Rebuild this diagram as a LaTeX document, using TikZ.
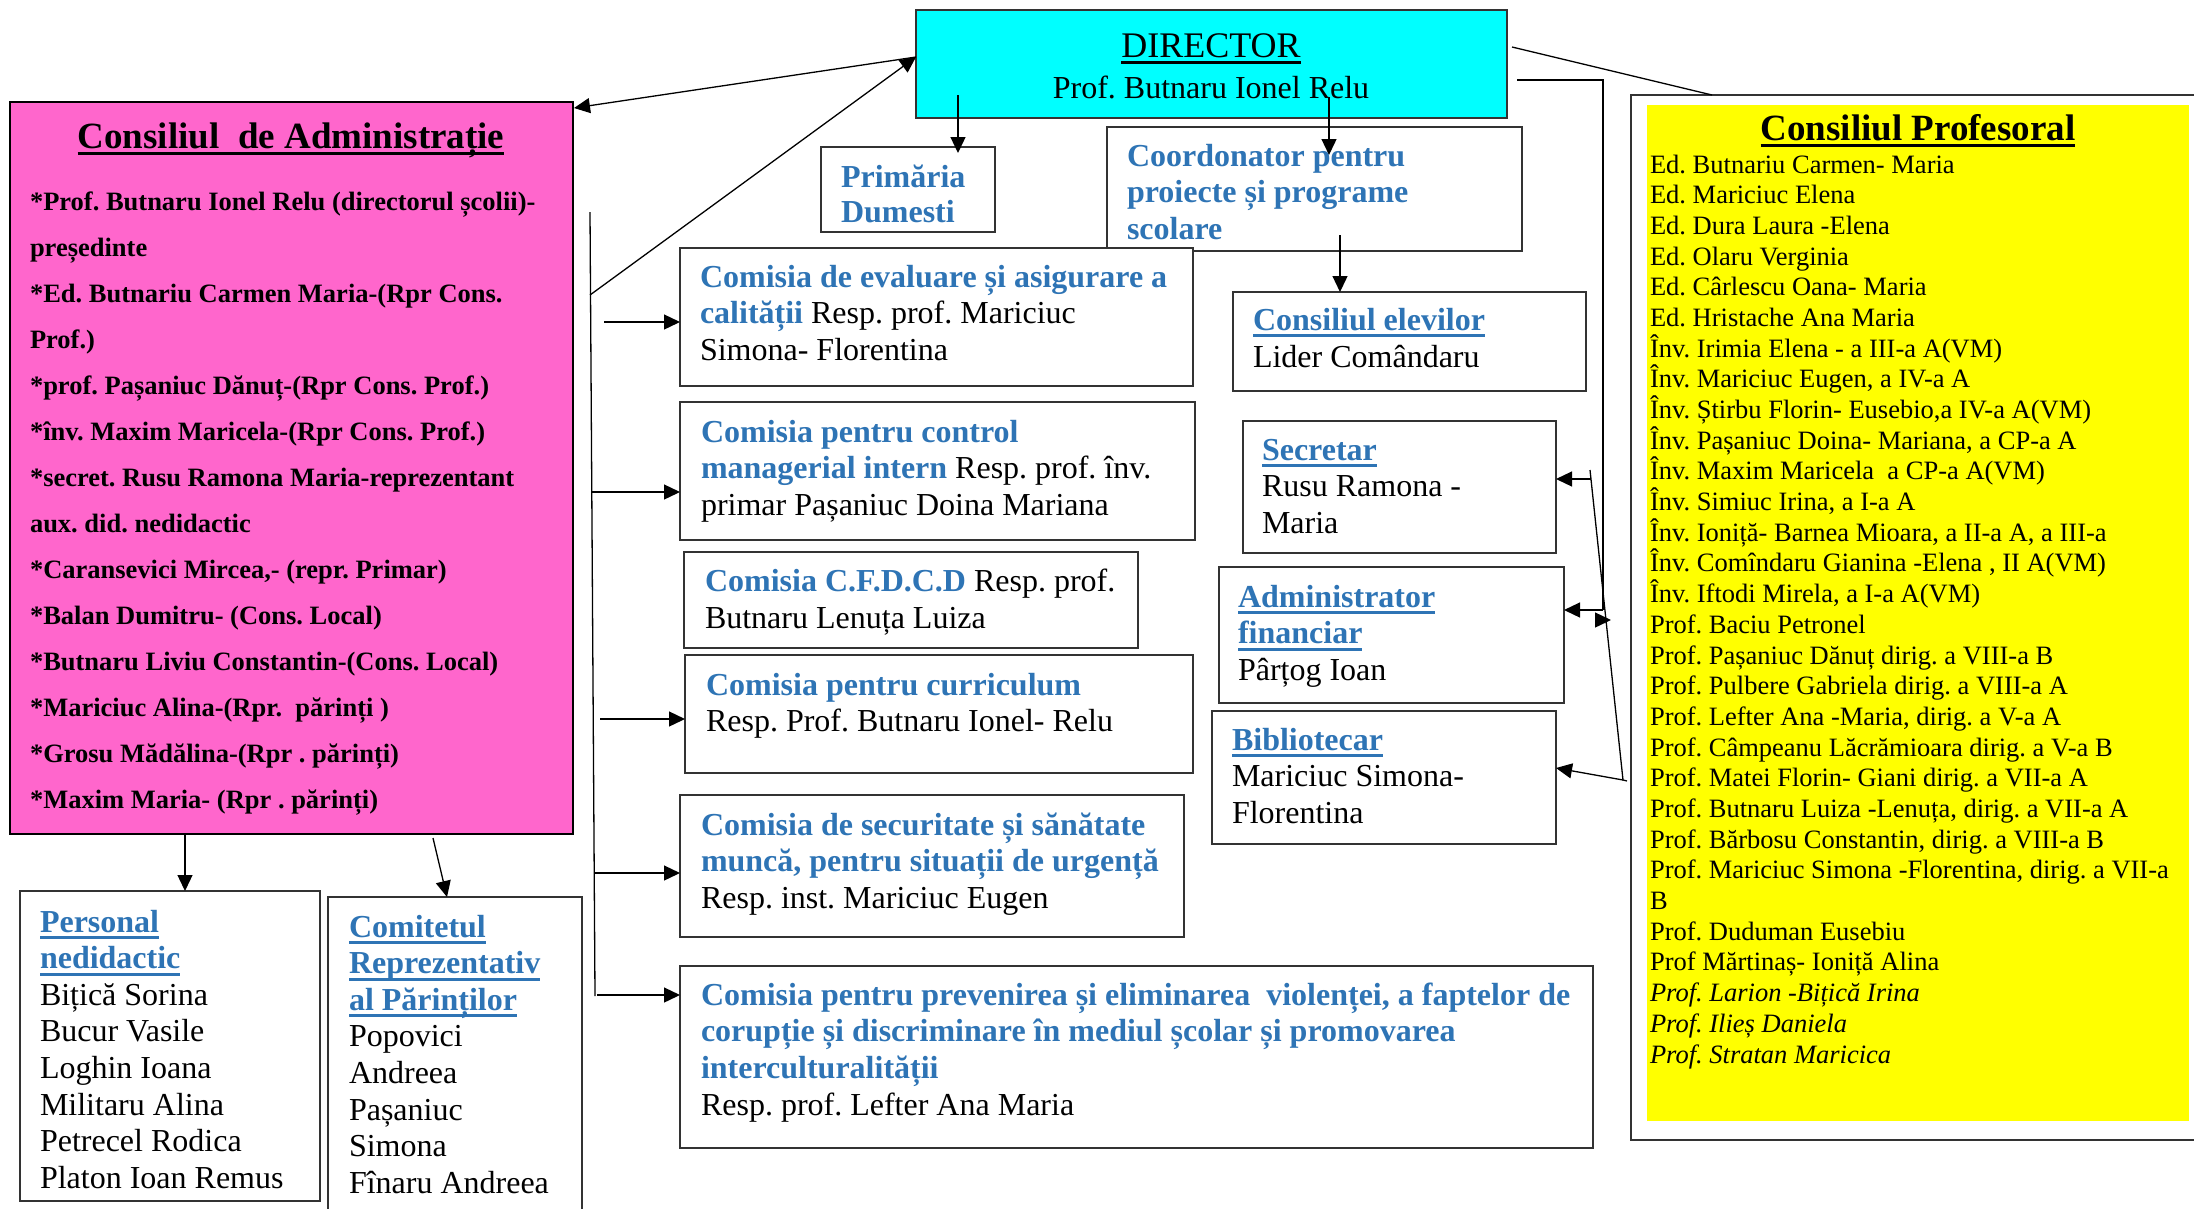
\documentclass[tikz,border=0pt]{standalone}
\usepackage{fontspec}
\setmainfont{Liberation Serif}
\usetikzlibrary{arrows.meta,calc}
\frenchspacing
\definecolor{cblue}{RGB}{46,116,181}
\definecolor{cpink}{RGB}{255,102,204}
\definecolor{ccyan}{RGB}{0,255,255}
\definecolor{cyell}{RGB}{255,255,0}
\newsavebox\ulbox
\newcommand\uln[1]{\sbox\ulbox{#1}\rlap{\rule[-7pt]{\wd\ulbox}{3pt}}\usebox\ulbox}
\newcommand\bl{\bfseries\color{cblue}}
\newcommand\bhd[1]{{\bfseries\color{cblue}\uln{#1}}}
\newcommand\tlines[6]{\foreach \tLine [count=\tIdx] in {#6} {\node[txt,#5] (#1\tIdx) at ({#2},{#3+(\tIdx-1)*#4}) {\tLine};}}
\newcommand\boxat[6]{\node[boxst,minimum width={#4-#2},minimum height={#5-#3},#6] (#1) at (#2,#3) {};}
\tikzset{
 boxst/.style={draw=black!80, line width=1.5pt, fill=white, anchor=north west, inner sep=0pt, outer sep=0pt},
 txt/.style={anchor=base west, inner sep=0pt, outer sep=0pt},
 fA/.style={font=\fontsize{32}{38}\selectfont\frenchspacing},
 fB/.style={font=\fontsize{26.5}{30}\selectfont\bfseries\frenchspacing},
 fC/.style={font=\fontsize{26.5}{30}\selectfont\frenchspacing},
 fH/.style={font=\fontsize{37}{44}\selectfont\bfseries},
 arr/.style={line width=1.3pt, -{Triangle[length=16pt,width=15pt]}},
 ln/.style={line width=1.3pt},
}
\begin{document}
\begin{tikzpicture}[x=1pt,y=-1pt]
\useasboundingbox (0,0) rectangle (2194,1208);
\clip (0,0) rectangle (2194,1208);
\fill[white] (0,0) rectangle (2194,1208);

% ---------- boxes ----------
\boxat{prof}{1631}{95}{2220}{1140}{}
\boxat{yel}{1647}{105}{2189}{1121}{draw=none, fill=cyell}
\boxat{director}{916}{10}{1507}{118}{fill=ccyan}
\boxat{admin}{10}{102}{573}{834}{fill=cpink, draw=black, line width=2.5pt}
\boxat{primaria}{821}{147}{995}{232}{}
\boxat{coord}{1107}{127}{1522}{251}{}
\boxat{eval}{680}{248}{1193}{386}{}
\boxat{elevi}{1233}{292}{1586}{391}{}
\boxat{control}{680}{402}{1195}{540}{}
\boxat{cfdcd}{684}{552}{1138}{648}{}
\boxat{curr}{685}{655}{1193}{773}{}
\boxat{secur}{680}{795}{1184}{937}{}
\boxat{prev}{680}{966}{1593}{1148}{}
\boxat{secretar}{1243}{421}{1556}{553}{}
\boxat{admfin}{1219}{567}{1564}{703}{}
\boxat{biblio}{1212}{711}{1556}{844}{}
\boxat{personal}{20}{891}{320}{1201}{}
\boxat{comitet}{328}{897}{582}{1230}{}

% ---------- texts ----------
\node[anchor=base, inner sep=0pt, font=\fontsize{36}{40}\selectfont] (dirT) at (1211,57) {\uln{DIRECTOR}};
\node[anchor=base, inner sep=0pt, fA] (dirN) at (1211,98) {Prof. Butnaru Ionel Relu};

\node[anchor=base, inner sep=0pt, fH] (adT) at (291,148) {\uln{Consiliul~ de Administrație}};
\tlines{ad}{30}{210}{46.07}{fB}{{*Prof. Butnaru Ionel Relu (directorul școlii)-},{președinte},{*Ed. Butnariu Carmen Maria-(Rpr Cons.},{Prof.)},{*prof. Pașaniuc Dănuț-(Rpr Cons. Prof.)},{*înv. Maxim Maricela-(Rpr Cons. Prof.)},{*secret. Rusu Ramona Maria-reprezentant},{aux. did. nedidactic},{*Caransevici Mircea,- (repr. Primar)},{*Balan Dumitru- (Cons. Local)},{*Butnaru Liviu Constantin-(Cons. Local)},{*Mariciuc Alina-(Rpr.~ părinți )},{*Grosu Mădălina-(Rpr . părinți)},{*Maxim Maria- (Rpr . părinți)}}

\tlines{pr}{841}{187}{35}{fA}{{\bl Primăria},{\bl Dumesti}}
\tlines{co}{1127}{166}{36.5}{fA}{{\bl Coordonator pentru},{\bl proiecte și programe},{\bl scolare}}
\tlines{el}{1253}{330}{37}{fA}{{\bhd{Consiliul elevilor}},{Lider Comândaru}}
\tlines{ev}{700}{287}{36.5}{fA}{{\bl Comisia de evaluare și asigurare a},{{\bl calității} Resp. prof. Mariciuc},{Simona- Florentina}}
\tlines{cm}{701}{442}{36.5}{fA}{{\bl Comisia pentru control},{{\bl managerial intern} Resp. prof. înv.},{primar Pașaniuc Doina Mariana}}
\tlines{cf}{705}{591}{37}{fA}{{{\bl Comisia C.F.D.C.D} Resp. prof.},{Butnaru Lenuța Luiza}}
\tlines{cu}{706}{695}{36}{fA}{{\bl Comisia pentru curriculum},{Resp. Prof. Butnaru Ionel- Relu}}
\tlines{se}{701}{835}{36.5}{fA}{{\bl Comisia de securitate și sănătate},{\bl muncă, pentru situații de urgență},{Resp. inst. Mariciuc Eugen}}
\tlines{pv}{701}{1005}{36.7}{fA}{{\bl Comisia pentru prevenirea și eliminarea~ violenței, a faptelor de},{\bl corupție și discriminare în mediul școlar și promovarea},{\bl interculturalității},{Resp. prof. Lefter Ana Maria}}
\tlines{sc}{1262}{460}{36.5}{fA}{{\bhd{Secretar}},{Rusu Ramona -},{Maria}}
\tlines{af}{1238}{607}{36.5}{fA}{{\bhd{Administrator}},{\bhd{financiar}},{Pârțog Ioan}}
\tlines{bi}{1232}{750}{36.5}{fA}{{\bhd{Bibliotecar}},{Mariciuc Simona-},{Florentina}}
\tlines{pe}{40}{932}{36.6}{fA}{{\bhd{Personal}},{\bhd{nedidactic}},{Bițică Sorina},{Bucur Vasile},{Loghin Ioana},{Militaru Alina},{Petrecel Rodica},{Platon Ioan Remus}}
\tlines{cr}{349}{937}{36.6}{fA}{{\bhd{Comitetul}},{\bhd{Reprezentativ}},{\bhd{al Părinților}},{Popovici},{Andreea},{Pașaniuc},{Simona},{Fînaru Andreea}}

\node[anchor=base, inner sep=0pt, fH] (cpT) at (1918,140) {\uln{Consiliul Profesoral}};
\tlines{cp}{1650}{173}{30.69}{fC}{{Ed. Butnariu Carmen- Maria},{Ed. Mariciuc Elena},{Ed. Dura Laura -Elena},{Ed. Olaru Verginia},{Ed. Cârlescu Oana- Maria},{Ed. Hristache Ana Maria},{Înv. Irimia Elena - a III-a A(VM)},{Înv. Mariciuc Eugen, a IV-a A},{Înv. Știrbu Florin- Eusebio,a IV-a A(VM)},{Înv. Pașaniuc Doina- Mariana, a CP-a A},{Înv. Maxim Maricela~ a CP-a A(VM)},{Înv. Simiuc Irina, a I-a A},{Înv. Ioniță- Barnea Mioara, a II-a A, a III-a},{Înv. Comîndaru Gianina -Elena , II A(VM)},{Înv. Iftodi Mirela, a I-a A(VM)},{Prof. Baciu Petronel},{Prof. Pașaniuc Dănuț dirig. a VIII-a B},{Prof. Pulbere Gabriela dirig. a VIII-a A},{Prof. Lefter Ana -Maria, dirig. a V-a A},{Prof. Câmpeanu Lăcrămioara dirig. a V-a B},{Prof. Matei Florin- Giani dirig. a VII-a A},{Prof. Butnaru Luiza -Lenuța, dirig. a VII-a A},{Prof. Bărbosu Constantin, dirig. a VIII-a B},{Prof. Mariciuc Simona -Florentina, dirig. a VII-a},{B},{Prof. Duduman Eusebiu},{Prof Mărtinaș- Ioniță Alina},{\itshape Prof. Larion -Bițică Irina},{\itshape Prof. Ilieș Daniela},{\itshape Prof. Stratan Maricica}}

% ---------- connectors ----------
\coordinate (dP) at (958,95);  \coordinate (pT) at (958,153);
\draw[arr] (dP) -- (pT);
\coordinate (dC) at (1329,97); \coordinate (cT) at (1329,155);
\draw[arr] (dC) -- (cT);
\coordinate (cE) at (1340,235);
\draw[arr] (cE) -- (cE |- elevi.north);
\coordinate (dL) at (916,57);
\draw[arr] (dL) -- ($(admin.north east)+(1,6)$);
\coordinate (vTop) at (590,212); \coordinate (vBot) at (595,996);
\draw[ln] (vTop) -- (vBot);
\coordinate (vD) at (590,295);
\draw[arr] (vD) -- (dL);
\coordinate (h1) at (604,322); \draw[arr] (h1) -- (h1 -| eval.west);
\coordinate (h2) at (592,492); \draw[arr] (h2) -- (h2 -| control.west);
\coordinate (h3) at (600,719); \draw[arr] (h3) -- (h3 -| curr.west);
\coordinate (h4) at (595,873); \draw[arr] (h4) -- (h4 -| secur.west);
\coordinate (h5) at (597,995); \draw[arr] (h5) -- (h5 -| prev.west);
\coordinate (aP) at (185,834); \draw[arr] (aP) -- (aP |- personal.north);
\coordinate (aC) at (433,838); \coordinate (cTip) at (447,897); \draw[arr] (aC) -- (cTip);
\coordinate (dR1) at (1512,47); \coordinate (pTop) at (1712,95); \draw[ln] (dR1) -- (pTop);
\coordinate (dR2) at (1517,80); \coordinate (kR) at (1603,80); \coordinate (kB) at (1603,610);
\draw[ln] (dR2) -- (kR) -- (kB);
\draw[arr] (kB) -- (kB -| admfin.east);
\coordinate (sA) at (1627,781); \coordinate (sB) at (1623,780); \coordinate (sT) at (1590,470); \coordinate (sH) at (1591,479);
\draw[ln] (sA) -- (sB) -- (sT);
\draw[arr] (sH) -- (sH -| secretar.east);
\coordinate (bT) at (1556,768); \draw[arr] (sB) -- (bT);
\coordinate (xA) at (1595,620); \coordinate (xB) at (1611,620); \draw[arr] (xA) -- (xB);
\end{tikzpicture}
\end{document}
